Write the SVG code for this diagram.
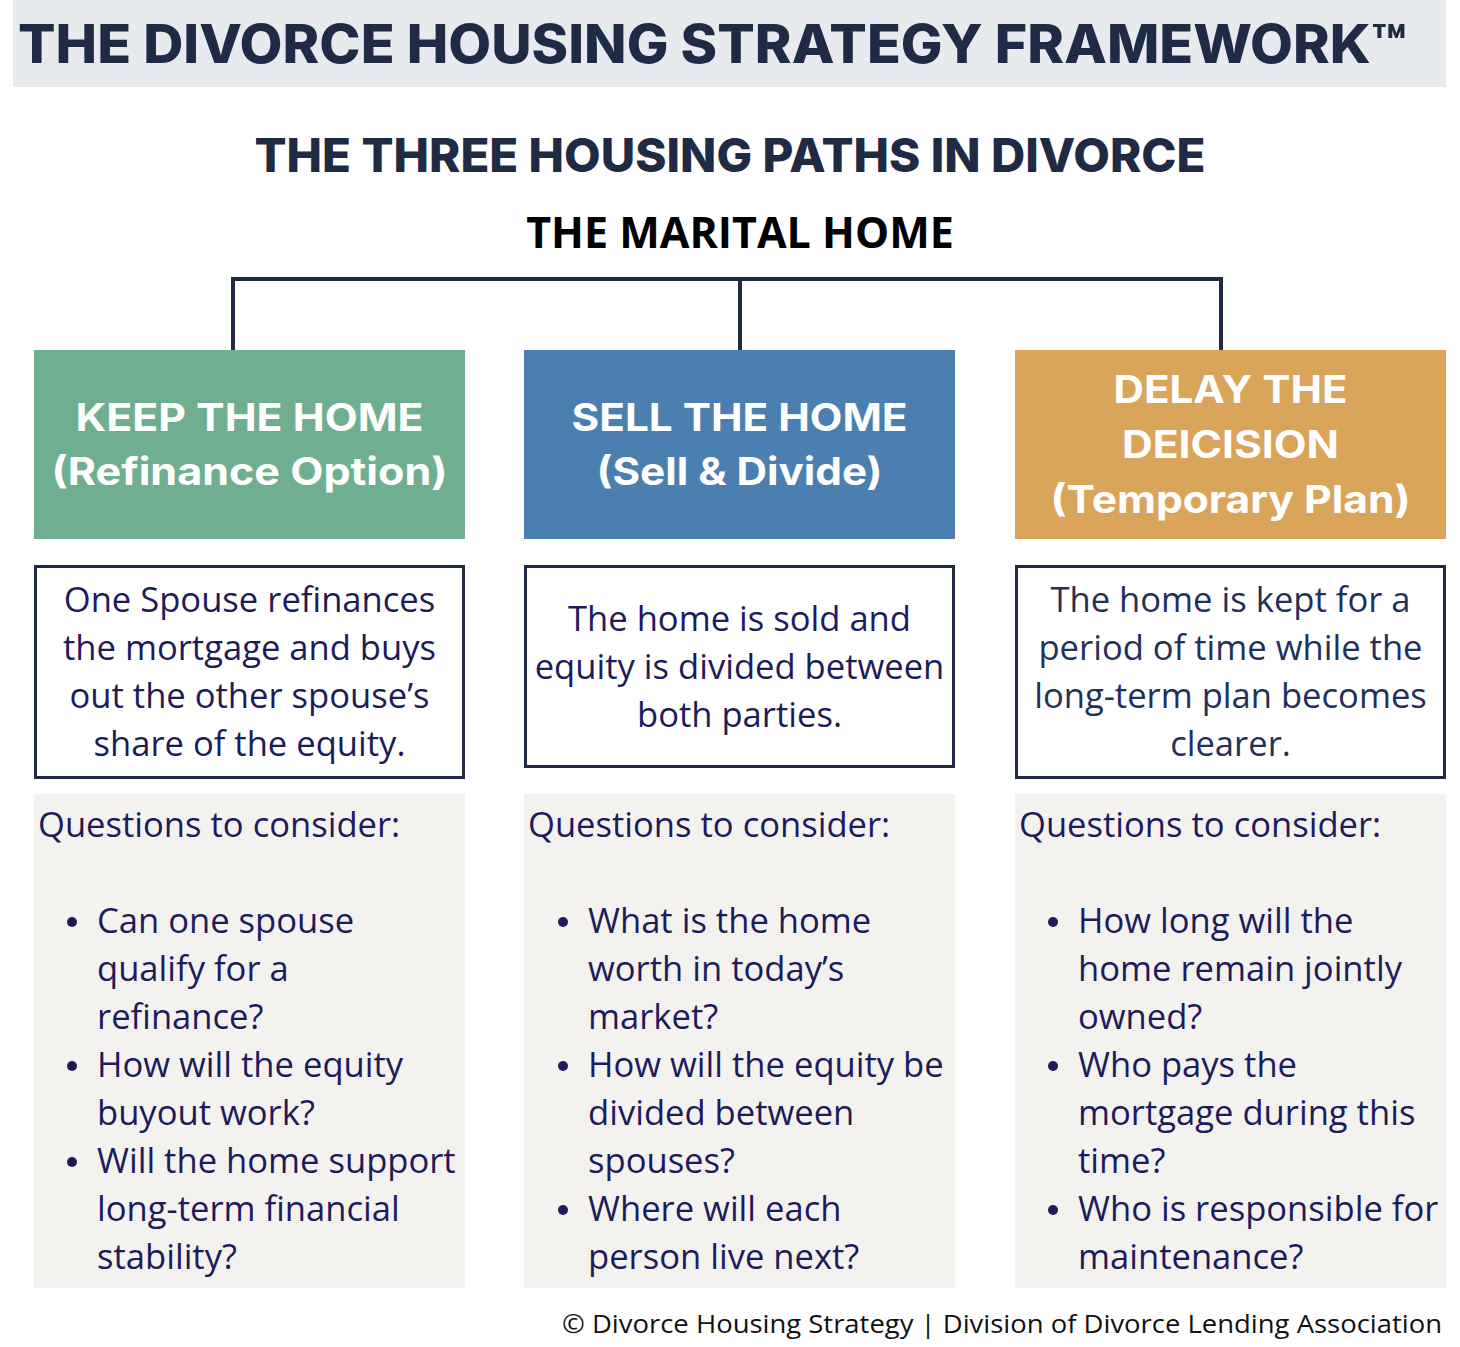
<svg xmlns="http://www.w3.org/2000/svg" width="1460" height="1347" viewBox="0 0 1460 1347">
<style>
.title{font-family:Inter,"Liberation Sans",sans-serif;font-weight:800;fill:#1f2a44}
.hdr{font-family:Inter,"Liberation Sans",sans-serif;font-weight:700;fill:#ffffff;font-size:38px;text-anchor:middle}
.desc{font-family:"Open Sans","Liberation Sans",sans-serif;font-size:34.6px;fill:#1d1b5c;text-anchor:middle}
.q{font-family:"Open Sans","Liberation Sans",sans-serif;font-size:34.6px;fill:#1d1b5c}
.dbox{fill:#ffffff;stroke:#1f2a44;stroke-width:3}
.qbox{fill:#f3f2ee}
.conn{stroke:#1f2a44;stroke-width:4;fill:none}
</style>
<rect x="13" y="0" width="1433" height="87" fill="#e8ebee"/>
<text class="title" x="18" y="63" font-size="53" textLength="1389" lengthAdjust="spacingAndGlyphs">THE DIVORCE HOUSING STRATEGY FRAMEWORK™</text>
<text class="title" x="730" y="172" font-size="47" text-anchor="middle" textLength="951" lengthAdjust="spacingAndGlyphs">THE THREE HOUSING PATHS IN DIVORCE</text>
<g id="root"><text x="740" y="248" font-family="'Open Sans','Liberation Sans',sans-serif" font-weight="700" font-size="43" fill="#000" text-anchor="middle">THE MARITAL HOME</text></g>
<g id="connectors">
<path class="conn" d="M233 350 V279 H1221 V350"/>
<path class="conn" d="M740 279 V350"/>
</g>
<g id="keep">
<rect x="34" y="350" width="431" height="189" fill="#6faf8f"/>
<text class="hdr" x="249.5" y="431" textLength="348" lengthAdjust="spacingAndGlyphs">KEEP THE HOME</text>
<text class="hdr" x="249.5" y="485" textLength="396" lengthAdjust="spacingAndGlyphs">(Refinance Option)</text>
<rect class="dbox" x="35.5" y="566.5" width="428" height="211"/>
<text class="desc" x="249.5" y="612">One Spouse refinances</text>
<text class="desc" x="249.5" y="660">the mortgage and buys</text>
<text class="desc" x="249.5" y="708">out the other spouse’s</text>
<text class="desc" x="249.5" y="756">share of the equity.</text>
<rect class="qbox" x="34" y="794" width="431" height="494"/>
<text class="q" x="38" y="837">Questions to consider:</text>
<g fill="#1d1b5c"><circle cx="72" cy="922" r="5"/><circle cx="72" cy="1066" r="5"/><circle cx="72" cy="1162" r="5"/></g>
<text class="q" x="97" y="933">Can one spouse</text>
<text class="q" x="97" y="981">qualify for a</text>
<text class="q" x="97" y="1029">refinance?</text>
<text class="q" x="97" y="1077">How will the equity</text>
<text class="q" x="97" y="1125">buyout work?</text>
<text class="q" x="97" y="1173">Will the home support</text>
<text class="q" x="97" y="1221">long-term financial</text>
<text class="q" x="97" y="1269">stability?</text>
</g>
<g id="sell">
<rect x="524" y="350" width="431" height="189" fill="#4a7faf"/>
<text class="hdr" x="739.5" y="431" textLength="336" lengthAdjust="spacingAndGlyphs">SELL THE HOME</text>
<text class="hdr" x="739.5" y="485" textLength="286" lengthAdjust="spacingAndGlyphs">(Sell &amp; Divide)</text>
<rect class="dbox" x="525.5" y="566.5" width="428" height="200"/>
<text class="desc" x="739.5" y="631">The home is sold and</text>
<text class="desc" x="739.5" y="679">equity is divided between</text>
<text class="desc" x="739.5" y="727">both parties.</text>
<rect class="qbox" x="524" y="794" width="431" height="494"/>
<text class="q" x="528" y="837">Questions to consider:</text>
<g fill="#1d1b5c"><circle cx="563" cy="922" r="5"/><circle cx="563" cy="1066" r="5"/><circle cx="563" cy="1210" r="5"/></g>
<text class="q" x="588" y="933">What is the home</text>
<text class="q" x="588" y="981">worth in today’s</text>
<text class="q" x="588" y="1029">market?</text>
<text class="q" x="588" y="1077">How will the equity be</text>
<text class="q" x="588" y="1125">divided between</text>
<text class="q" x="588" y="1173">spouses?</text>
<text class="q" x="588" y="1221">Where will each</text>
<text class="q" x="588" y="1269">person live next?</text>
</g>
<g id="delay">
<rect x="1015" y="350" width="431" height="189" fill="#d9a55b"/>
<text class="hdr" x="1230.5" y="403" textLength="234" lengthAdjust="spacingAndGlyphs">DELAY THE</text>
<text class="hdr" x="1230.5" y="458" textLength="217" lengthAdjust="spacingAndGlyphs">DEICISION</text>
<text class="hdr" x="1230.5" y="513" textLength="360" lengthAdjust="spacingAndGlyphs">(Temporary Plan)</text>
<rect class="dbox" x="1016.5" y="566.5" width="428" height="211"/>
<text class="desc" x="1230.5" y="612" style="fill:#22305a">The home is kept for a</text>
<text class="desc" x="1230.5" y="660" style="fill:#22305a">period of time while the</text>
<text class="desc" x="1230.5" y="708" style="fill:#22305a">long-term plan becomes</text>
<text class="desc" x="1230.5" y="756" style="fill:#22305a">clearer.</text>
<rect class="qbox" x="1015" y="794" width="431" height="494"/>
<text class="q" x="1019" y="837">Questions to consider:</text>
<g fill="#1d1b5c"><circle cx="1053" cy="922" r="5"/><circle cx="1053" cy="1066" r="5"/><circle cx="1053" cy="1210" r="5"/></g>
<text class="q" x="1078" y="933">How long will the</text>
<text class="q" x="1078" y="981">home remain jointly</text>
<text class="q" x="1078" y="1029">owned?</text>
<text class="q" x="1078" y="1077">Who pays the</text>
<text class="q" x="1078" y="1125">mortgage during this</text>
<text class="q" x="1078" y="1173">time?</text>
<text class="q" x="1078" y="1221">Who is responsible for</text>
<text class="q" x="1078" y="1269">maintenance?</text>
</g>
<text x="1442" y="1333" font-family="'Open Sans','Liberation Sans',sans-serif" font-size="26" fill="#111" text-anchor="end" textLength="880" lengthAdjust="spacingAndGlyphs">© Divorce Housing Strategy | Division of Divorce Lending Association</text>
</svg>
